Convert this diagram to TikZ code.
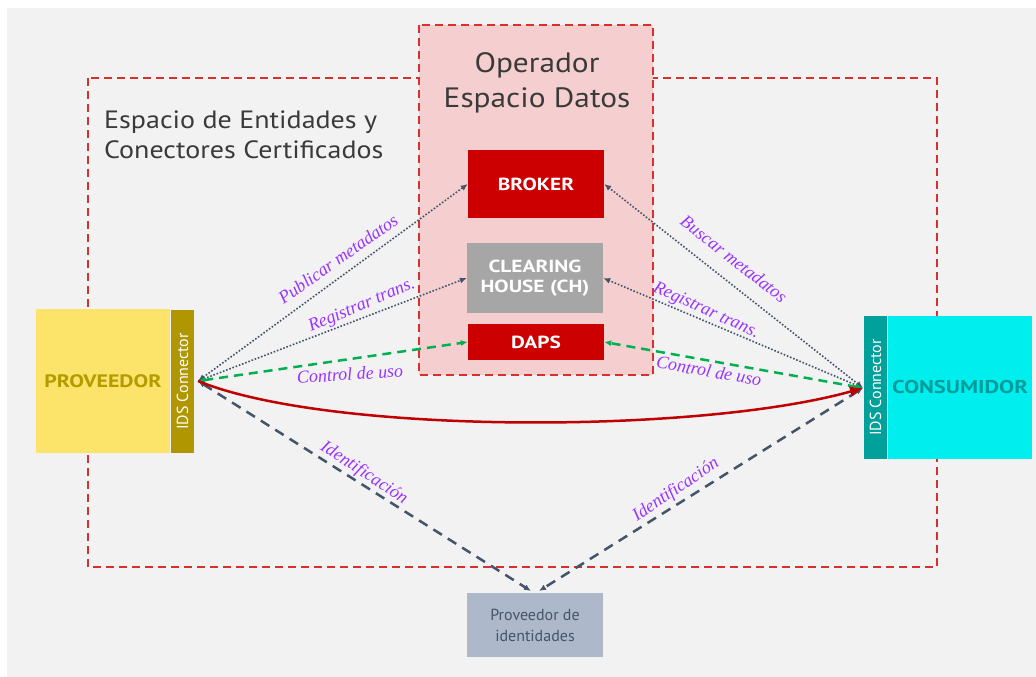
\documentclass[tikz,border=0pt]{standalone}
\usepackage{fontspec}
\setmainfont{PT Sans}
\newfontfamily\lblfont{Liberation Serif}
\newfontfamily\titlefont[FakeStretch=1.12]{PT Sans}
\newfontfamily\boxfont[FakeStretch=1.22]{PT Sans}
\usetikzlibrary{arrows.meta}
\definecolor{bggray}{HTML}{F2F2F2}
\definecolor{dred}{HTML}{D6302F}
\definecolor{pinkfill}{HTML}{F5CFCF}
\definecolor{brokerred}{HTML}{CC0000}
\definecolor{chgray}{HTML}{A6A6A6}
\definecolor{provyellow}{HTML}{FCE46A}
\definecolor{provtext}{HTML}{B39B00}
\definecolor{idsolive}{HTML}{B09600}
\definecolor{conscyan}{HTML}{00EEEE}
\definecolor{consteal}{HTML}{00A09B}
\definecolor{constext}{HTML}{009C9C}
\definecolor{idpfill}{HTML}{ADB9CA}
\definecolor{slate}{HTML}{44546A}
\definecolor{dgreen}{HTML}{00B050}
\definecolor{lblpurple}{HTML}{9933FF}
\definecolor{arrred}{HTML}{C00000}
\definecolor{titletext}{HTML}{3A3A3A}
\begin{document}
\begin{tikzpicture}[x=1pt,y=-1pt,
  redbox/.style={draw=dred,line width=2pt,dash pattern=on 8pt off 5pt},
  box/.style={inner sep=0pt,align=center,text=white,font=\boxfont\bfseries\fontsize{17.5}{20}\selectfont},
  idsbox/.style={inner sep=0pt,rotate=90,minimum width=143pt,minimum height=23pt,text=white,font=\fontsize{16}{16}\selectfont},
  dotarrow/.style={draw=slate,line width=1.6pt,dash pattern=on 1.6pt off 1.8pt,{Latex[length=7pt,width=6pt]}-{Latex[length=7pt,width=6pt]}},
  greenarrow/.style={draw=dgreen,line width=2.5pt,dash pattern=on 9pt off 6pt,{Latex[length=7pt,width=6pt]}-{Latex[length=7pt,width=6pt]}},
  identarrow/.style={draw=slate,line width=2.5pt,dash pattern=on 10pt off 7pt,{Latex[length=7pt,width=6pt]}-{Latex[length=7pt,width=6pt]}},
  lbl/.style={inner sep=0pt,text=lblpurple,font=\lblfont\itshape\fontsize{18}{18}\selectfont},
  title/.style={inner sep=0pt,text=titletext,align=left}
]
\useasboundingbox (0,0) rectangle (1036,677);
\fill[bggray] (7,8) rectangle (1036,677);
\draw[redbox] (88,78) rectangle (937,567);
\draw[redbox,fill=pinkfill] (419,25) rectangle (653,375);

\node[title,anchor=west,font=\titlefont\fontsize{25}{30}\selectfont] (ttl1) at (104,135) {Espacio de Entidades y\\Conectores Certificados};
\node[title,align=center,font=\titlefont\fontsize{28}{35}\selectfont] (ttl2) at (537,83) {Operador\\Espacio Datos};

\node[box,fill=brokerred,minimum width=136pt,minimum height=68pt] (broker) at (536,184) {BROKER};
\node[box,fill=chgray,minimum width=136pt,minimum height=70pt] (ch) at (535,278) {CLEARING\\HOUSE (CH)};
\node[box,fill=brokerred,minimum width=136pt,minimum height=36pt] (daps) at (536,342) {DAPS};

\node[box,fill=provyellow,text=provtext,minimum width=134pt,minimum height=144pt,font=\boxfont\bfseries\fontsize{18}{20}\selectfont] (prov) at (103,381) {PROVEEDOR};
\node[idsbox,fill=idsolive] (idsL) at (182.5,381.5) {IDS Connector};
\node[box,fill=conscyan,text=constext,minimum width=144pt,minimum height=143pt,font=\boxfont\bfseries\fontsize{18.5}{20}\selectfont] (cons) at (960,387.5) {CONSUMIDOR};
\node[idsbox,fill=consteal] (idsR) at (875.5,387.5) {IDS Connector};

\node[inner sep=0pt,fill=idpfill,text=slate,align=center,minimum width=136pt,minimum height=64pt,font=\fontsize{16}{21}\selectfont] (idp) at (535,625) {Proveedor de\\identidades};

\coordinate (pL) at (198,381);
\coordinate (pR) at (863,388);
\coordinate (idpA) at (531,591);
\coordinate (idpB) at (539,591);

\draw[dotarrow] (pL) -- (broker.west);
\draw[dotarrow] (pL) -- (ch.west);
\draw[greenarrow] (pL) -- (daps.west);
\draw[dotarrow] (pR) -- (broker.east);
\draw[dotarrow] (pR) -- (ch.east);
\draw[greenarrow] (pR) -- (daps.east);
\draw[identarrow] (pL) -- (idpA);
\draw[identarrow] (pR) -- (idpB);
\draw[draw=arrred,line width=2.5pt,-{Latex[length=13pt,width=11pt]}] (pL) .. controls (330,435) and (700,434) .. (pR);

\node[lbl,rotate=35] (l1) at (338,259) {Publicar metadatos};
\node[lbl,rotate=23] (l2) at (362,306) {Registrar trans.};
\node[lbl,rotate=4] (l3) at (350,374) {Control de uso};
\node[lbl,rotate=-38] (l4) at (734,259) {Buscar metadatos};
\node[lbl,rotate=-24] (l5) at (706,311) {Registrar trans.};
\node[lbl,rotate=-10] (l6) at (709,371) {Control de uso};
\node[lbl,rotate=-33] (l7) at (364,473) {Identificación};
\node[lbl,rotate=34] (l8) at (676,490) {Identificación};
\end{tikzpicture}
\end{document}
